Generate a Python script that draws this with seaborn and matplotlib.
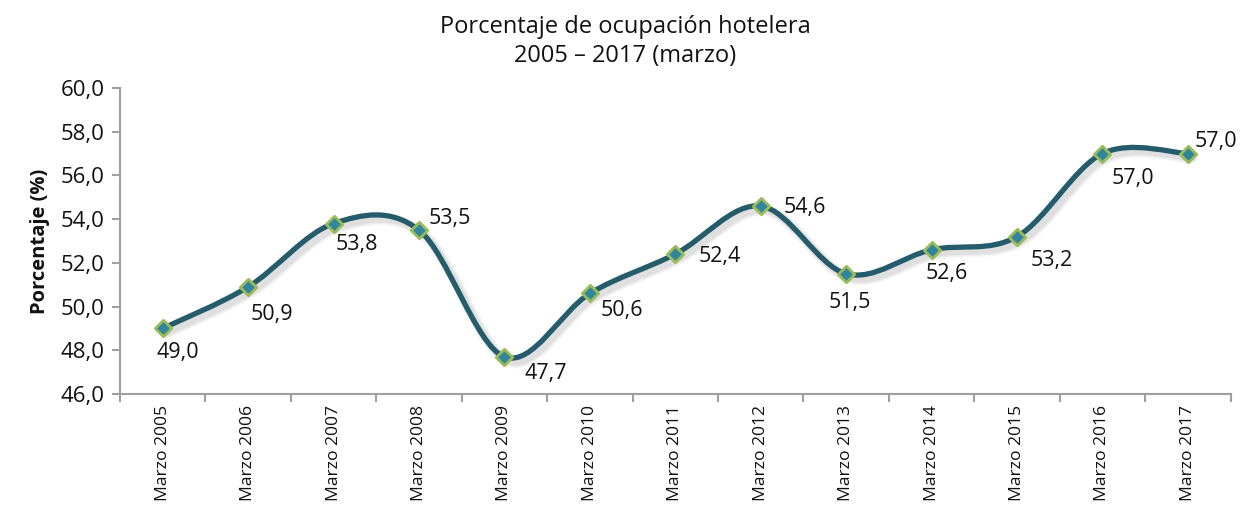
import numpy as np
import pandas as pd
import matplotlib
matplotlib.use('Agg')
import matplotlib.pyplot as plt
from matplotlib.path import Path
from matplotlib.patches import PathPatch
from matplotlib.transforms import ScaledTranslation
import seaborn as sns

# Datos
anios = ['Marzo 2005', 'Marzo 2006', 'Marzo 2007', 'Marzo 2008', 'Marzo 2009',
         'Marzo 2010', 'Marzo 2011', 'Marzo 2012', 'Marzo 2013', 'Marzo 2014',
         'Marzo 2015', 'Marzo 2016', 'Marzo 2017']
ocupacion = [49.0, 50.9, 53.8, 53.5, 47.7, 50.6, 52.4, 54.6, 51.5, 52.6, 53.2, 57.0, 57.0]
etiquetas = ['49,0', '50,9', '53,8', '53,5', '47,7', '50,6', '52,4', '54,6',
             '51,5', '52,6', '53,2', '57,0', '57,0']

# desplazamiento de las etiquetas (puntos)
desp = [(11, -17), (17, -20), (17, -15), (22, 8), (30, -12), (23, -12), (32, -2),
        (32, -1), (3, -21), (11, -17), (25, -17), (22, -18), (20, 9)]

df = pd.DataFrame({'x': np.arange(len(anios)), 'y': ocupacion})

sns.set_style('white')
plt.rcParams['font.family'] = ['Open Sans', 'DejaVu Sans']
plt.rcParams['text.color'] = '#111111'
plt.rcParams['xtick.labelcolor'] = '#111111'
plt.rcParams['ytick.labelcolor'] = '#111111'
plt.rcParams['axes.labelcolor'] = '#111111'

fig = plt.figure(figsize=(12.43, 5.08), dpi=100)
ax = fig.add_axes([0.0965, 0.2244, 0.8935, 0.6024])

linea = '#245c6b'

# curva suavizada (Bezier tipo Excel)
x = df['x'].to_numpy(float)
y = df['y'].to_numpy(float)
n = len(x)
verts = [(x[0], y[0])]
codes = [Path.MOVETO]
for i in range(n - 1):
    p0 = np.array([x[max(i - 1, 0)], y[max(i - 1, 0)]])
    p1 = np.array([x[i], y[i]])
    p2 = np.array([x[i + 1], y[i + 1]])
    p3 = np.array([x[min(i + 2, n - 1)], y[min(i + 2, n - 1)]])
    c1 = p1 + (p2 - p0) / 6
    c2 = p2 - (p3 - p1) / 6
    verts += [tuple(c1), tuple(c2), tuple(p2)]
    codes += [Path.CURVE4] * 3
curva = Path(verts, codes)

# sombra difusa
for lw, a in [(9, 0.06), (7, 0.08), (5, 0.12)]:
    sombra = PathPatch(curva, facecolor='none', edgecolor='#808080', lw=lw,
                       alpha=a, zorder=1, capstyle='round')
    sombra.set_transform(ax.transData + ScaledTranslation(3 / 72, -3 / 72, fig.dpi_scale_trans))
    ax.add_patch(sombra)
ax.add_patch(PathPatch(curva, facecolor='none', edgecolor=linea, lw=3.8,
                       capstyle='round', zorder=2))

sns.scatterplot(data=df, x='x', y='y', marker='D', s=70, color='#31859c',
                edgecolor='#9bbb59', linewidth=2, zorder=3, ax=ax, legend=False)

for xi, yi, t, d in zip(x, y, etiquetas, desp):
    ax.annotate(t, (xi, yi), xytext=d, textcoords='offset points',
                ha='center', va='center', fontsize=15.5)

ax.set_xlim(-0.5, n - 0.5)
ax.set_ylim(46, 60)
ax.set_yticks(np.arange(46, 61, 2))
ax.set_yticklabels([f'{v:.1f}'.replace('.', ',') for v in np.arange(46, 61, 2)], fontsize=16)
ax.set_xticks(x)
ax.set_xticklabels(anios, rotation=90, fontsize=12.6)
ax.set_xticks(np.arange(-0.5, n, 1), minor=True)
ax.tick_params(axis='x', which='major', length=0, pad=8)
ax.tick_params(axis='x', which='minor', length=6, color='#a0a0a0', width=1.5,
               direction='out', bottom=True)
ax.tick_params(axis='y', length=6, color='#a0a0a0', width=1.5, direction='out',
               pad=5, left=True)

for s in ['top', 'right']:
    ax.spines[s].set_visible(False)
for s in ['left', 'bottom']:
    ax.spines[s].set_color('#a0a0a0')
    ax.spines[s].set_linewidth(1.5)

ax.set_xlabel('')
ax.set_ylabel('Porcentaje (%)', fontsize=14.5, fontweight='bold', labelpad=8)
fig.text(0.503, 0.918, 'Porcentaje de ocupación hotelera\n2005 – 2017 (marzo)',
         ha='center', va='center', fontsize=17, linespacing=1.3)

fig.savefig('out.png', dpi=100)
